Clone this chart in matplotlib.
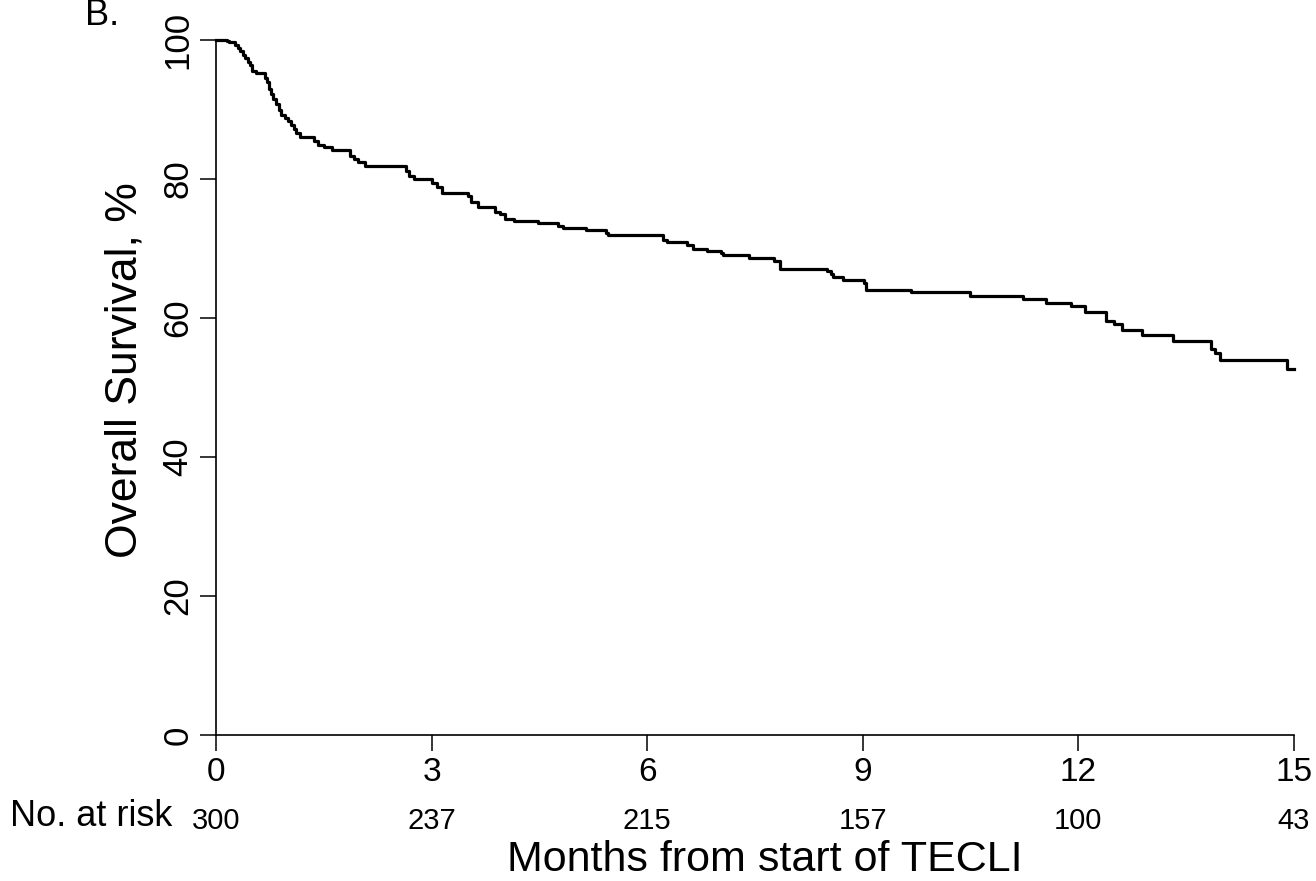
import matplotlib
matplotlib.use("Agg")
import matplotlib.pyplot as plt

plt.rcParams['font.family'] = ['Liberation Sans', 'DejaVu Sans']

# Kaplan-Meier estimate (months, survival % after the step)
times = [0, 0.15, 0.18, 0.26, 0.30, 0.33, 0.37, 0.40, 0.44, 0.47, 0.50, 0.55,
         0.68, 0.71, 0.74, 0.77, 0.80, 0.84, 0.87, 0.91, 0.96, 1.00, 1.04, 1.08,
         1.12, 1.17, 1.36, 1.42, 1.50, 1.61, 1.86, 1.92, 1.98, 2.07, 2.64, 2.68,
         2.75, 3.00, 3.07, 3.14, 3.50, 3.55, 3.65, 3.88, 3.95, 4.02, 4.14, 4.48,
         4.76, 4.83, 5.15, 5.43, 5.46, 6.22, 6.27, 6.55, 6.64, 6.83, 7.02, 7.06,
         7.41, 7.76, 7.85, 8.50, 8.56, 8.59, 8.73, 9.02, 9.05, 9.67, 10.49, 11.23,
         11.55, 11.90, 12.09, 12.39, 12.50, 12.60, 12.88, 13.32, 13.85, 13.90,
         13.97, 14.90, 15.00]
survival = [100, 99.8, 99.7, 99.3, 98.9, 98.4, 97.9, 97.4, 96.9, 96.4, 95.6, 95.3,
            94.6, 93.9, 93.0, 92.2, 91.5, 90.8, 90.0, 89.2, 88.8, 88.3, 87.8, 87.2,
            86.6, 86.0, 85.5, 84.9, 84.6, 84.2, 83.3, 82.9, 82.5, 81.8, 81.1, 80.5,
            80.0, 79.4, 78.9, 78.0, 77.6, 76.7, 75.9, 75.3, 74.9, 74.3, 74.0, 73.7,
            73.2, 72.9, 72.7, 72.2, 71.9, 71.2, 71.0, 70.5, 70.0, 69.7, 69.3, 69.0,
            68.6, 68.2, 67.0, 66.7, 66.4, 65.9, 65.4, 65.0, 64.1, 63.8, 63.2, 62.7,
            62.2, 61.7, 60.9, 59.5, 59.1, 58.3, 57.6, 56.7, 55.6, 54.9,
            54.0, 52.6, 52.6]

risk_times = [0, 3, 6, 9, 12, 15]
risk_counts = [300, 237, 215, 157, 100, 43]
y_ticks = [0, 20, 40, 60, 80, 100]

fig = plt.figure(figsize=(13.16, 8.81), dpi=100)
ax = fig.add_axes([216 / 1316, 1 - 735 / 881, 1078 / 1316, 695 / 881])

ax.step(times, survival, where='post', color='black', lw=2.3, clip_on=False)

ax.set_xlim(0, 15)
ax.set_ylim(0, 100)
ax.set_xticks(risk_times)
ax.set_yticks(y_ticks)
for s in ['top', 'right']:
    ax.spines[s].set_visible(False)
for s in ['left', 'bottom']:
    ax.spines[s].set_linewidth(1.2)
ax.tick_params(axis='both', length=11.5, width=1.1, color='black')
ax.tick_params(axis='x', pad=4, labelsize=24)
ax.tick_params(axis='y', pad=4, labelsize=25, labelrotation=90)
for lbl in ax.get_yticklabels():
    lbl.set_va('center')

fig.text(125 / 1316, 1 - 370 / 881, 'Overall Survival, %', rotation=90,
         ha='center', va='center', fontsize=32)
fig.text(765 / 1316, 1 - 860 / 881, 'Months from start of TECLI',
         ha='center', va='center', fontsize=31)
fig.text(10 / 1316, 1 - 816 / 881, 'No. at risk', ha='left', va='center', fontsize=26)
for t, n in zip(risk_times, risk_counts):
    ax.text(t, (735 - 821) / 695, str(n), transform=ax.get_xaxis_transform(),
            ha='center', va='center', fontsize=21, clip_on=False)
fig.text(85 / 1316, 1 - 25 / 881, 'B.', ha='left', va='baseline', fontsize=26)

fig.savefig('out.png', dpi=100)
